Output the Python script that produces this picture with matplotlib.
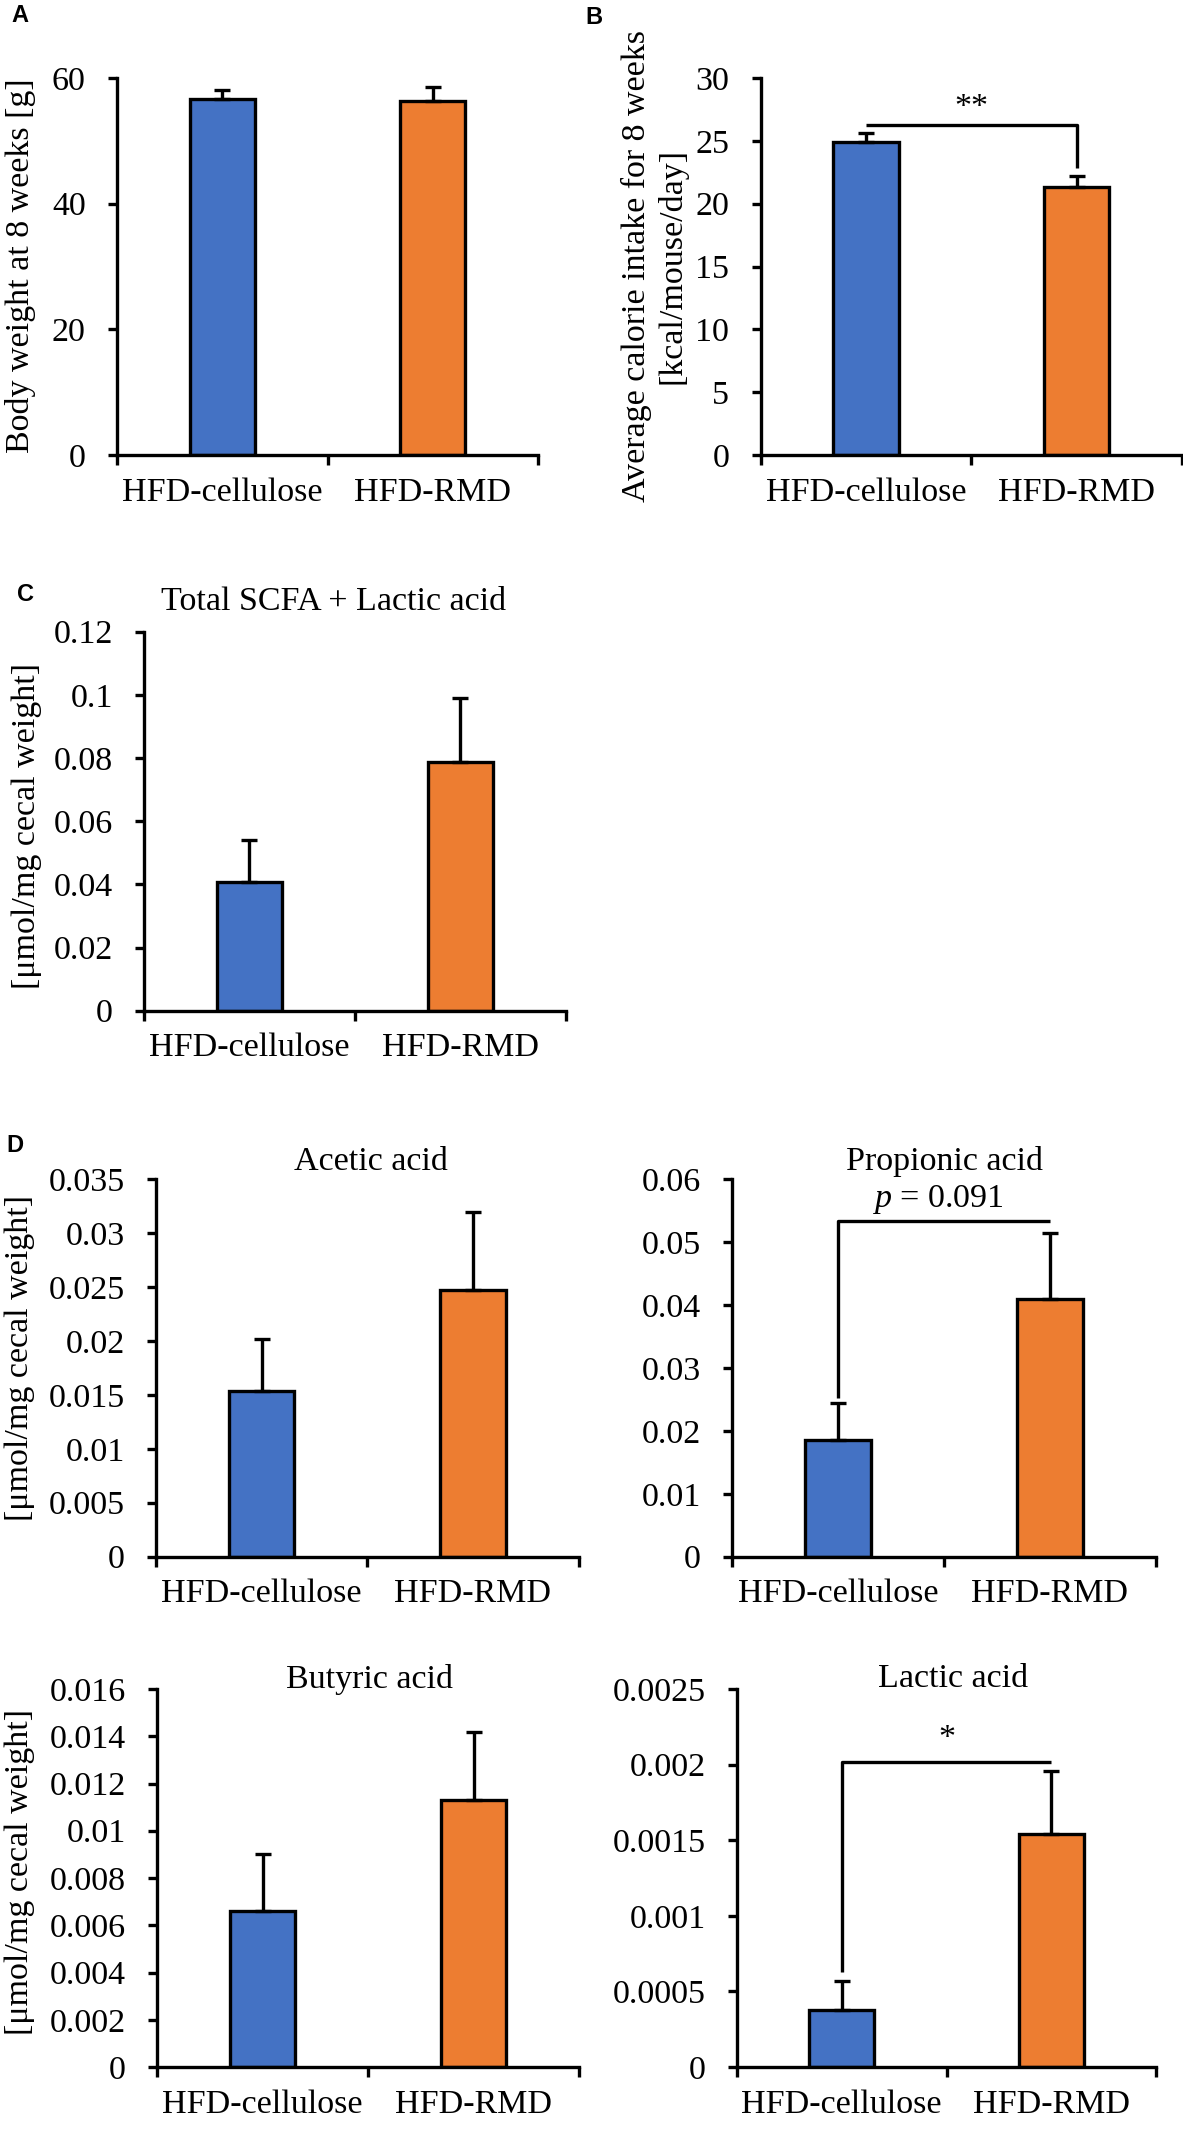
import matplotlib
matplotlib.use('Agg')
import matplotlib.pyplot as plt
import numpy as np

plt.rcParams['font.family'] = ['Liberation Serif', 'DejaVu Serif']
plt.rcParams['mathtext.fontset'] = 'custom'
plt.rcParams['mathtext.rm'] = 'Liberation Serif'
plt.rcParams['mathtext.it'] = 'Liberation Serif:italic'

groups = ['HFD-cellulose', 'HFD-RMD']
colors = ['#4472C4', '#ED7D31']

body_weight = [56.7, 56.4]
body_weight_err = [1.4, 2.2]
calorie = [24.9, 21.3]
calorie_err = [0.7, 0.9]
total_scfa = [0.0408, 0.0786]
total_scfa_err = [0.0133, 0.0204]
acetic = [0.0154, 0.0247]
acetic_err = [0.0048, 0.0072]
propionic = [0.0185, 0.0410]
propionic_err = [0.0059, 0.0105]
butyric = [0.0066, 0.0113]
butyric_err = [0.0024, 0.0029]
lactic = [0.00038, 0.00154]
lactic_err = [0.00019, 0.00042]

W, H = 1183, 2130
FS = 24.5
LW = 2.4

fig = plt.figure(figsize=(W / 100, H / 100), dpi=100)


def px(x, y):
    return x / W, 1 - y / H


def make_axes(left, right, top, bottom):
    return fig.add_axes([left / W, 1 - bottom / H, (right - left) / W, (bottom - top) / H])


def bar_panel(ax, vals, errs, ymax, step):
    x = np.arange(len(vals)) + 0.5
    ax.bar(x, vals, 0.31, color=colors, edgecolor='black', linewidth=LW, zorder=2)
    ax.errorbar(x, vals, yerr=[np.zeros(len(errs)), errs], fmt='none', ecolor='black',
                elinewidth=LW, capsize=6, capthick=LW, zorder=3)
    ax.set_xlim(0, 2)
    ax.set_ylim(0, ymax)
    ticks = np.round(np.arange(0, ymax + step / 2, step), 6)
    ax.set_yticks(ticks)
    ax.set_yticklabels([f'{t:g}' for t in ticks])
    ax.set_xticks([0, 1, 2])
    ax.set_xticklabels([])
    ax.set_xticks(x, minor=True)
    ax.set_xticklabels(groups, minor=True)
    ax.tick_params(axis='x', which='major', direction='out', length=7, width=LW)
    ax.tick_params(axis='x', which='minor', length=0, pad=16, labelsize=FS)
    ax.tick_params(axis='y', direction='out', length=6.5, width=LW, pad=16, labelsize=FS)
    for s in ['top', 'right']:
        ax.spines[s].set_visible(False)
    for s in ['left', 'bottom']:
        ax.spines[s].set_linewidth(LW)
    ax.patch.set_alpha(0)


def title(ax, text, x, yfrac):
    ax.text(x, yfrac, text, transform=ax.get_xaxis_transform(), ha='center', va='center',
            fontsize=FS, clip_on=False)


def bracket(ax, y, left_drop=None, right_drop=None):
    xs = [0.5, 1.5]
    ys = [y, y]
    if left_drop is not None:
        xs = [0.5] + xs
        ys = [left_drop] + ys
    if right_drop is not None:
        xs = xs + [1.5]
        ys = ys + [right_drop]
    ax.plot(xs, ys, color='black', lw=LW, clip_on=False, solid_capstyle='butt', zorder=4)


def ylabel(x, y, text):
    fig.text(*px(x, y), text, rotation=90, ha='center', va='center',
             multialignment='center', fontsize=FS, linespacing=1.2)


# A
axA = make_axes(117, 538, 78, 455)
bar_panel(axA, body_weight, body_weight_err, 60, 20)
ylabel(21, 266, 'Body weight at 8 weeks [g]')

# B
axB = make_axes(760.6, 1181.8, 78, 455)
bar_panel(axB, calorie, calorie_err, 30, 5)
bracket(axB, 26.28, right_drop=22.83)
axB.text(1.0, 27.6, '**', ha='center', va='center', fontsize=FS)
ylabel(654, 266, 'Average calorie intake for 8 weeks\n[kcal/mouse/day]')

# C
axC = make_axes(144, 565.6, 631.7, 1010.7)
bar_panel(axC, total_scfa, total_scfa_err, 0.12, 0.02)
title(axC, 'Total SCFA + Lactic acid', 0.899, 1.079)
ylabel(27, 826, '[μmol/mg cecal weight]')

# D
axD1 = make_axes(156, 578.6, 1179, 1556.7)
bar_panel(axD1, acetic, acetic_err, 0.035, 0.005)
title(axD1, 'Acetic acid', 1.019, 1.046)
ylabel(20, 1358, '[μmol/mg cecal weight]')

axD2 = make_axes(732, 1155.7, 1179, 1556.7)
bar_panel(axD2, propionic, propionic_err, 0.06, 0.01)
bracket(axD2, 0.0533, left_drop=0.0252)
title(axD2, 'Propionic acid', 1.004, 1.046)
axD2.text(0.971, 0.0567, r'$p$ = 0.091', ha='center', va='center', fontsize=FS)

axD3 = make_axes(157, 579, 1689, 2067)
bar_panel(axD3, butyric, butyric_err, 0.016, 0.002)
title(axD3, 'Butyric acid', 1.005, 1.024)
ylabel(20, 1872, '[μmol/mg cecal weight]')

axD4 = make_axes(737, 1156, 1689, 2067)
bar_panel(axD4, lactic, lactic_err, 0.0025, 0.0005)
bracket(axD4, 0.00202, left_drop=0.00063)
axD4.text(1.0, 0.00217, '*', ha='center', va='center', fontsize=FS)
title(axD4, 'Lactic acid', 1.031, 1.027)

# panel letters
for letter, (lx, ly) in zip('ABCD', [(20, 16), (594, 18), (25, 595), (15, 1145)]):
    fig.text(*px(lx, ly), letter, ha='center', va='center', fontsize=17,
             fontweight='bold', family='Liberation Sans')

fig.savefig('out.png', dpi=100)
